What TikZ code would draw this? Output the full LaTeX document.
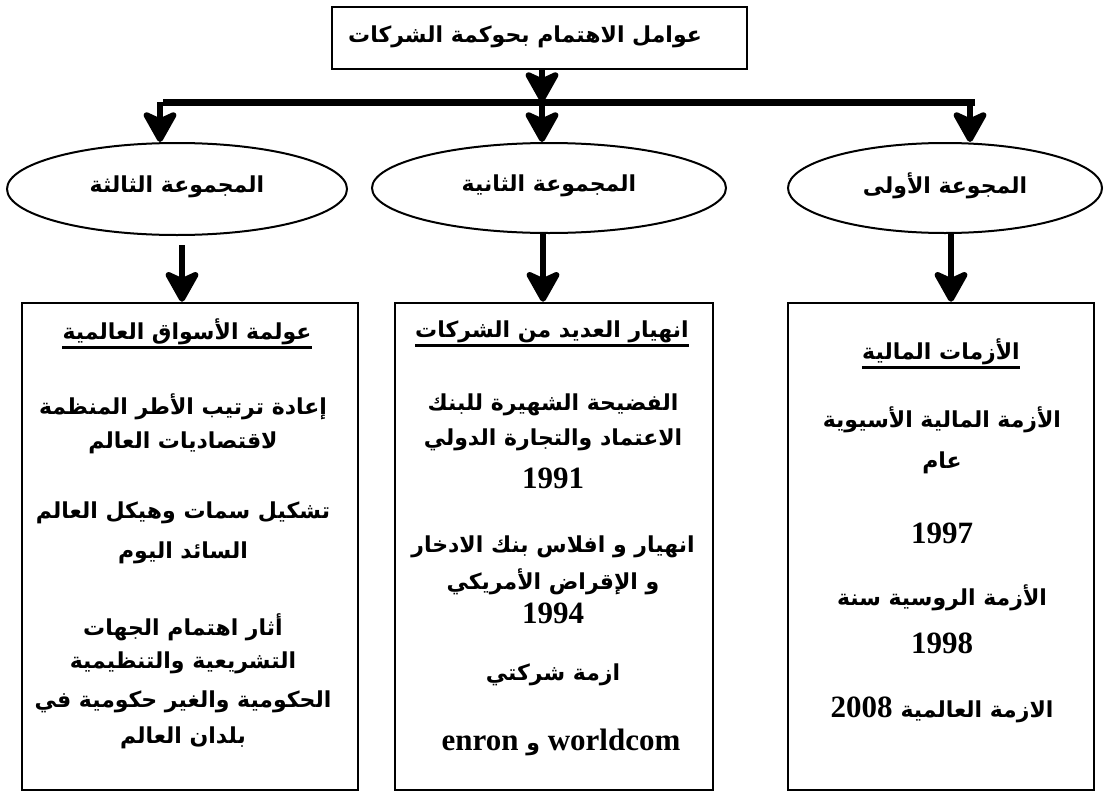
\documentclass[tikz,border=0pt]{standalone}
\usepackage{fontspec}
\setmainfont{Liberation Serif}
\newfontfamily\arabicfont[Script=Arabic]{DejaVu Sans}
\newfontfamily\latinfont{Liberation Serif}
\TeXXeTstate=1
\usetikzlibrary{arrows.meta,shapes.geometric}
\newcommand{\AR}[1]{{\arabicfont\bfseries\beginR #1\endR}}
\newcommand{\NUM}[1]{{\latinfont\bfseries #1}}
\begin{document}
\begin{tikzpicture}[x=1pt,y=-1pt,
  arr/.style={line width=6pt,-{Stealth[length=36pt,width=40pt,inset=9pt,round]}},
  hline/.style={line width=7pt},
  box/.style={draw,line width=2.5pt,rectangle,inner sep=0pt},
  ell/.style={draw,line width=2pt,ellipse,inner sep=0pt},
  txt/.style={inner sep=0pt,font=\fontsize{22}{26}\selectfont},
  num/.style={inner sep=0pt,font=\fontsize{31}{34}\selectfont},
  uline/.style={line width=2.5pt}]
\useasboundingbox (0,0) rectangle (1107,792);
% top box
\node[box,minimum width=415pt,minimum height=62pt] (top) at (539.5,38) {};
\node[txt] (toptxt) at (525,37) {\AR{عوامل الاهتمام بحوكمة الشركات}};
% horizontal line
\coordinate (hl) at (163,102);
\coordinate (hr) at (975,102);
\coordinate (c1) at (160,102);
\coordinate (c2) at (542,102);
\coordinate (c3) at (970,102);
\draw[hline] (hl) -- (hr);
\draw[arr] (top.south -| c2) -- (c2);
% ellipses
\node[ell,minimum width=340pt,minimum height=92pt] (e3) at (177,189) {};
\node[txt] (e3t) at (177,187) {\AR{المجموعة الثالثة}};
\node[ell,minimum width=354pt,minimum height=90pt] (e2) at (549,188) {};
\node[txt] (e2t) at (549,186) {\AR{المجموعة الثانية}};
\node[ell,minimum width=314pt,minimum height=90pt] (e1) at (945,188) {};
\node[txt] (e1t) at (945,186) {\AR{المجوعة الأولى}};
\draw[arr] (c1) -- (c1 |- e3.north);
\draw[arr] (c2) -- (c2 |- e2.north);
\draw[arr] (c3) -- (c3 |- e1.north);
% boxes
\node[box,minimum width=336pt,minimum height=487pt] (b3) at (190,546.5) {};
\node[box,minimum width=318pt,minimum height=487pt] (b2) at (554,546.5) {};
\node[box,minimum width=306pt,minimum height=487pt] (b1) at (941,546.5) {};
\coordinate (s3) at (182,245);
\coordinate (s2) at (543,233);
\coordinate (s1) at (951,233);
\draw[arr] (s3) -- (s3 |- b3.north);
\draw[arr] (s2) -- (s2 |- b2.north);
\draw[arr] (s1) -- (s1 |- b1.north);
% left box text
\node[txt] (t3) at (187,332) {\AR{عولمة الأسواق العالمية}};
\draw[uline] ([yshift=-2pt]t3.south west) -- ([yshift=-2pt]t3.south east);
\node[txt] (l31) at (183,407) {\AR{إعادة ترتيب الأطر المنظمة}};
\node[txt] (l32) at (183,443) {\AR{لاقتصاديات العالم}};
\node[txt] (l33) at (183,513) {\AR{تشكيل سمات وهيكل العالم}};
\node[txt] (l34) at (183,553) {\AR{السائد اليوم}};
\node[txt] (l35) at (183,627) {\AR{أثار اهتمام الجهات}};
\node[txt] (l36) at (183,663) {\AR{التشريعية والتنظيمية}};
\node[txt] (l37) at (183,702) {\AR{الحكومية والغير حكومية في}};
\node[txt] (l38) at (183,738) {\AR{بلدان العالم}};
% middle box text
\node[txt] (t2) at (552,332) {\AR{انهيار العديد من الشركات}};
\draw[uline] ([yshift=-2pt]t2.south west) -- ([yshift=-2pt]t2.south east);
\node[txt] (l21) at (553,405) {\AR{الفضيحة الشهيرة للبنك}};
\node[txt] (l22) at (553,440) {\AR{الاعتماد والتجارة الدولي}};
\node[num] (l23) at (553,478) {\NUM{1991}};
\node[txt] (l24) at (553,547) {\AR{انهيار و افلاس بنك الادخار}};
\node[txt] (l25) at (553,582) {\AR{و الإقراض الأمريكي}};
\node[num] (l26) at (553,613) {\NUM{1994}};
\node[txt] (l27) at (553,675) {\AR{ازمة شركتي}};
\node[num] (l28) at (561,742) {{\latinfont\bfseries enron} {\arabicfont\bfseries\fontsize{22}{26}\selectfont و} {\latinfont\bfseries worldcom}};
% right box text
\node[txt] (t1) at (941,352) {\AR{الأزمات المالية}};
\draw[uline] ([yshift=-2pt]t1.south west) -- ([yshift=-2pt]t1.south east);
\node[txt] (l11) at (942,420) {\AR{الأزمة المالية الأسيوية}};
\node[txt] (l12) at (942,463) {\AR{عام}};
\node[num] (l13) at (942,533) {\NUM{1997}};
\node[txt] (l14) at (942,598) {\AR{الأزمة الروسية سنة}};
\node[num] (l15) at (942,643) {\NUM{1998}};
\node[txt] (l16) at (942,710) {{\latinfont\bfseries\fontsize{31}{34}\selectfont 2008}\hspace{8pt}\AR{الازمة العالمية}};
\end{tikzpicture}
\end{document}
